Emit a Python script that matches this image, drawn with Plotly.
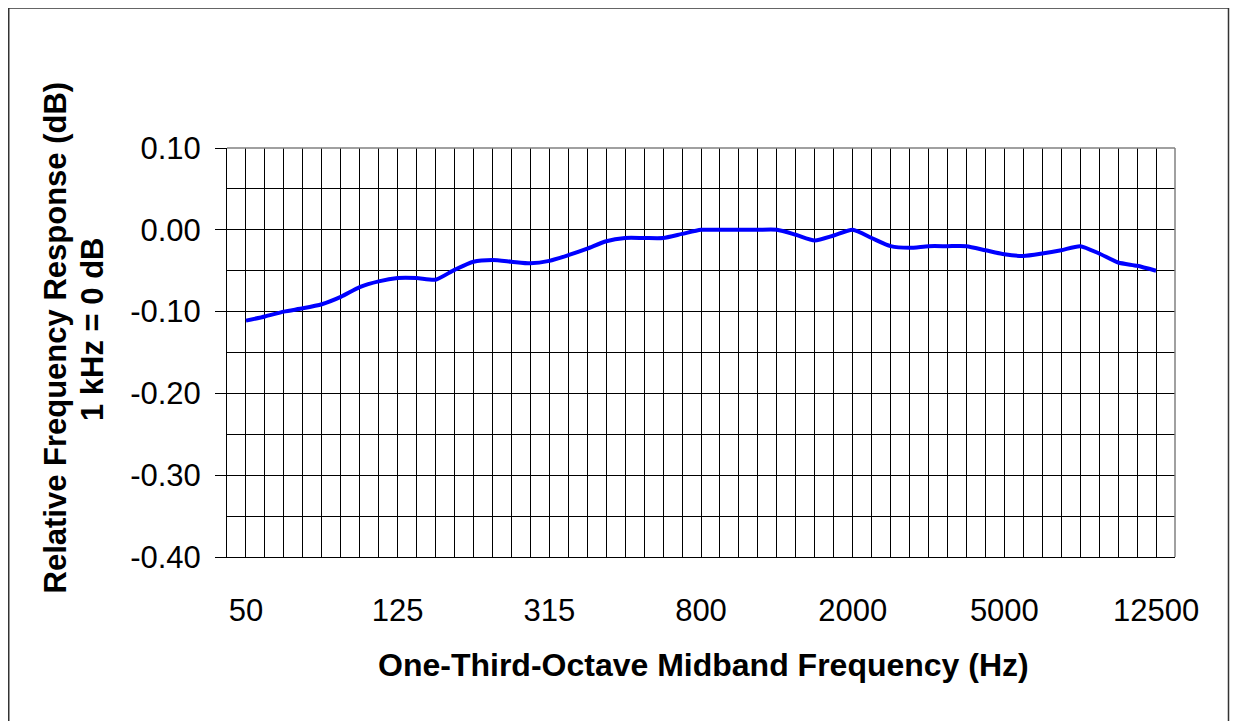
import plotly.graph_objects as go

# One-sixth-octave positions (labels shown every 8th = 50, 125, 315, ...)
freqs = ["50", "56", "63", "71", "80", "90", "100", "112", "125", "140", "160", "180",
         "200", "224", "250", "280", "315", "355", "400", "450", "500", "560", "630", "710",
         "800", "900", "1000", "1120", "1250", "1400", "1600", "1800", "2000", "2240", "2500",
         "2800", "3150", "3550", "4000", "4500", "5000", "5600", "6300", "7100", "8000",
         "9000", "10000", "11200", "12500"]

response_db = [-0.111, -0.106, -0.100, -0.096, -0.091, -0.082, -0.070, -0.063, -0.059,
               -0.059, -0.061, -0.049, -0.039, -0.037, -0.039, -0.041, -0.038, -0.031,
               -0.023, -0.014, -0.010, -0.010, -0.010, -0.005, 0.000, 0.000, 0.000, 0.000,
               0.000, -0.006, -0.013, -0.007, 0.000, -0.010, -0.020, -0.022, -0.020, -0.020,
               -0.020, -0.025, -0.030, -0.032, -0.029, -0.025, -0.020, -0.029, -0.040,
               -0.044, -0.050]

label_freqs = ["50", "125", "315", "800", "2000", "5000", "12500"]
y_ticks = [0.10, 0.00, -0.10, -0.20, -0.30, -0.40]

FONT = "Arial, 'Liberation Sans', Helvetica, sans-serif"

fig = go.Figure()
fig.add_trace(go.Scatter(
    x=freqs, y=response_db, mode="lines",
    line=dict(color="#0000FF", width=4, shape="spline", smoothing=0.6),
    showlegend=False, hoverinfo="skip",
))

# page body has an 8px margin: work in reference-pixel coordinates and shift
O = 8
W, H = 1238 - O, 721 - O
L, R, T, B = 227 - O, 1175 - O, 148 - O, 557 - O
pw, ph = R - L, B - T

def px(x):
    return (x - O - L) / pw

def py(y):
    return (B - (y - O)) / ph

fig.update_layout(
    width=W, height=H,
    margin=dict(l=L, r=W - R, t=T, b=H - B, pad=0),
    paper_bgcolor="white", plot_bgcolor="white",
    font=dict(family=FONT, size=31, color="black"),
    xaxis=dict(
        type="category", range=[-1, len(freqs)],
        tickmode="array", tickvals=freqs,
        ticktext=[f if f in label_freqs else "" for f in freqs],
        ticks="", showgrid=True, gridcolor="black", gridwidth=1,
        showline=True, linecolor="black", linewidth=1,
        ticklabelstandoff=26, tickfont=dict(size=31, family=FONT),
        zeroline=False, fixedrange=True,
    ),
    yaxis=dict(
        range=[-0.40, 0.10], tickmode="array", tickvals=y_ticks,
        ticktext=["%.2f" % v for v in y_ticks],
        ticks="outside", ticklen=11, tickcolor="black", tickwidth=1,
        showgrid=True, gridcolor="black", gridwidth=1,
        minor=dict(dtick=0.05, tick0=0, showgrid=True, gridcolor="black", gridwidth=1, ticks=""),
        showline=True, linecolor="black", linewidth=1,
        ticklabelstandoff=8, tickfont=dict(size=31, family=FONT),
        zeroline=False, fixedrange=True,
    ),
    shapes=[
        dict(type="line", xref="paper", yref="paper", x0=0, x1=1, y0=1, y1=1,
             line=dict(color="#808080", width=1.5), layer="above"),
        dict(type="line", xref="paper", yref="paper", x0=1, x1=1, y0=0, y1=1,
             line=dict(color="#808080", width=1.5), layer="above"),
        dict(type="rect", xref="paper", yref="paper",
             x0=px(8.75), x1=px(1228.5), y0=py(730), y1=py(8),
             line=dict(color="#333333", width=1.5), layer="below"),
    ],
    annotations=[
        dict(text="<b>Relative Frequency Response (dB)</b>", textangle=-90,
             xref="paper", yref="paper", x=px(55), y=py(337.5), showarrow=False,
             xanchor="center", yanchor="middle", font=dict(size=31, family=FONT)),
        dict(text="<b>1 kHz = 0 dB</b>", textangle=-90,
             xref="paper", yref="paper", x=px(92), y=py(329), showarrow=False,
             xanchor="center", yanchor="middle", font=dict(size=31, family=FONT)),
        dict(text="<b>One-Third-Octave Midband Frequency (Hz)</b>",
             xref="paper", yref="paper", x=px(703), y=py(665), showarrow=False,
             xanchor="center", yanchor="middle", font=dict(size=32, family=FONT)),
    ],
)

fig.write_html("out.html")
